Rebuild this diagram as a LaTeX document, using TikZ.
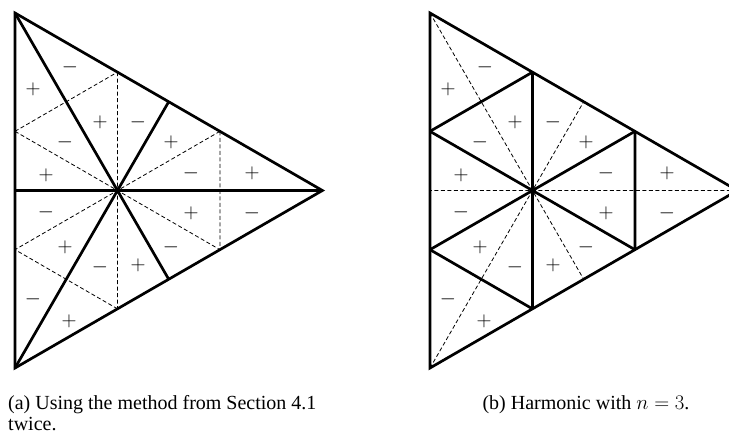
\documentclass[tikz,border=0pt]{standalone}
\usepackage{fontspec}
\setmainfont{Liberation Serif}
\usetikzlibrary{calc}

\begin{document}
\begin{tikzpicture}[x=1pt,y=-1pt,
borde/.style={line width=2.7pt,line join=miter},
gruesa/.style={line width=2.7pt},
punteada/.style={line width=0.8pt,dash pattern=on 4pt off 2.5pt},
signo/.style={inner sep=0pt,font=\fontsize{22}{22}\selectfont},
leyenda/.style={inner sep=0pt,font=\fontsize{20}{21}\selectfont,align=left}
]
\useasboundingbox (0,0) rectangle (729,437);

% puntos de los dos triangulos
\foreach \t/\dx in {a/0,b/415}{
  \coordinate (A\t) at (15+\dx,13);
  \coordinate (B\t) at (15+\dx,368);
  \coordinate (C\t) at (322.4+\dx,190.5);
  \coordinate (O\t) at (117.5+\dx,190.5);
  \coordinate (P\t1) at ($(A\t)!1/3!(B\t)$);
  \coordinate (P\t2) at ($(A\t)!2/3!(B\t)$);
  \coordinate (Q\t1) at ($(A\t)!1/3!(C\t)$);
  \coordinate (Q\t2) at ($(A\t)!2/3!(C\t)$);
  \coordinate (R\t1) at ($(B\t)!1/3!(C\t)$);
  \coordinate (R\t2) at ($(B\t)!2/3!(C\t)$);
  \coordinate (Mab\t) at ($(A\t)!1/2!(B\t)$);
  \coordinate (Mac\t) at ($(A\t)!1/2!(C\t)$);
  \coordinate (Mbc\t) at ($(B\t)!1/2!(C\t)$);
}

% (a)
\draw[punteada] (Pa1) -- (Qa1) (Qa2) -- (Ra2) (Ra1) -- (Pa2) (Qa1) -- (Ra1);
\draw[punteada] (Pa1) -- (Oa) -- (Pa2) (Qa2) -- (Oa) -- (Ra2);
\draw[gruesa] (Aa) -- (Mbca) (Ba) -- (Maca) (Ca) -- (Maba);
\draw[borde] (Aa) -- (Ba) -- (Ca) -- cycle;

% (b)
\draw[punteada] (Ab) -- (Mbcb) (Bb) -- (Macb) (Cb) -- (Mabb);
\draw[gruesa] (Pb1) -- (Qb1) (Qb2) -- (Rb2) (Rb1) -- (Pb2) (Qb1) -- (Rb1);
\draw[gruesa] (Pb1) -- (Ob) -- (Pb2) (Qb2) -- (Ob) -- (Rb2);
\draw[borde] (Ab) -- (Bb) -- (Cb) -- cycle;

% signos
\foreach \dx in {0,415}
  \foreach \x/\y/\s [count=\i] in {70/67/-, 33/89/+, 100/122/+, 138/122/-, 171/142/+, 65/142/-,
      46/175/+, 191/173/-, 252/173/+, 46/212/-, 191/213/+, 252/213/-,
      65/247/+, 171/247/-, 100/267/-, 138/265/+, 33/299/-, 69/321/+}
    \node[signo] (s\dx-\i) at (\x+\dx,\y) {$\s$};

\node[leyenda,anchor=north west] (capa) at (8,395) {(a) Using the method from Section 4.1\\twice.};
\node[leyenda,anchor=north] (capb) at (586,395) {(b) Harmonic with $n=3$.};
\end{tikzpicture}
\end{document}
